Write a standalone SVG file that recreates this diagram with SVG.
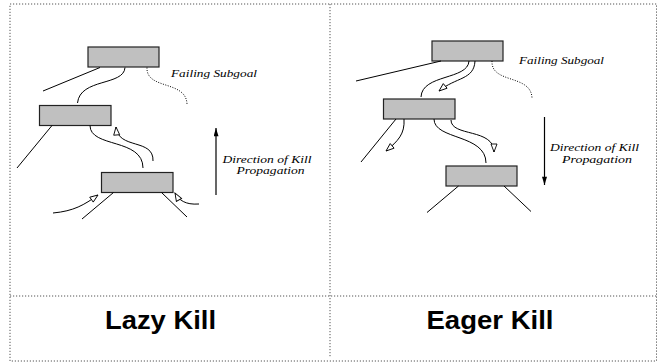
<svg xmlns="http://www.w3.org/2000/svg" width="667" height="363" viewBox="0 0 667 363">
  <style>
    .frame { fill: none; stroke: #555; stroke-width: 1; stroke-dasharray: 1.2 1.8; }
    .node rect { fill: #c0c0c0; stroke: #222; stroke-width: 1.2; }
    .edge { fill: none; stroke: #000; stroke-width: 1; }
    .kill { fill: none; stroke: #000; stroke-width: 1; marker-end: url(#open); }
    .fail { fill: none; stroke: #000; stroke-width: 1; stroke-dasharray: 1 1.5; }
    .dir { fill: none; stroke: #000; stroke-width: 1.2; marker-end: url(#tip); }
    .note { font-family: "Liberation Serif", "DejaVu Serif", "Times New Roman", serif; font-style: italic; font-size: 11px; fill: #000; }
    .title { font-family: "Liberation Sans", Arial, sans-serif; font-weight: bold; font-size: 26px; fill: #000; }
  </style>
  <defs>
    <marker id="open" viewBox="0 0 10 8" refX="9" refY="4" markerWidth="10" markerHeight="8" markerUnits="userSpaceOnUse" orient="auto">
      <path d="M1,1 L9,4 L1,7 Z" fill="#fff" stroke="#000" stroke-width="0.9"/>
    </marker>
    <marker id="tip" viewBox="0 0 10 6" refX="10" refY="3" markerWidth="9" markerHeight="5" markerUnits="userSpaceOnUse" orient="auto">
      <path d="M0,0 L10,3 L0,6 Z" fill="#000"/>
    </marker>
  </defs>

  <!-- panel frame -->
  <g id="frame">
    <rect class="frame" x="10" y="4" width="646.5" height="357"/>
    <line class="frame" x1="330" y1="4" x2="330" y2="357"/>
    <line class="frame" x1="10" y1="296" x2="656.5" y2="296"/>
  </g>

  <!-- lazy kill: tree nodes -->
  <g id="lazy-top" class="node"><rect x="88" y="47" width="71" height="20"/></g>
  <g id="lazy-mid" class="node"><rect x="39.5" y="105.5" width="71.5" height="20"/></g>
  <g id="lazy-low" class="node"><rect x="101.5" y="172.5" width="71.5" height="20"/></g>

  <!-- eager kill: tree nodes -->
  <g id="eager-top" class="node"><rect x="432" y="41" width="71" height="20"/></g>
  <g id="eager-mid" class="node"><rect x="383.5" y="99" width="71.5" height="20"/></g>
  <g id="eager-low" class="node"><rect x="446" y="166" width="71" height="20"/></g>

  <!-- connectors -->
  <g id="connectors">
    <!-- lazy kill -->
    <line class="edge" x1="100" y1="67.5" x2="43" y2="91"/>
    <path class="edge" d="M125,67.5 C124,86 80,78 77.5,103"/>
    <path class="fail" d="M147,67.5 C146,90 186,80 187,104"/>
    <line class="edge" x1="52" y1="125.5" x2="17" y2="168"/>
    <path class="edge" d="M90,125.5 C90,148 143,138 143,168"/>
    <path class="kill" d="M153,161 C154,138 118,150 116,127"/>
    <line class="edge" x1="113.5" y1="192.5" x2="82" y2="219"/>
    <line class="edge" x1="161.5" y1="192.5" x2="187" y2="217"/>
    <path class="kill" d="M53,213 C74,211 84,205 98,195"/>
    <path class="kill" d="M199,204 C185,205 179,200 175,193"/>
    <line class="dir" x1="216" y1="195" x2="216" y2="128"/>

    <!-- eager kill -->
    <line class="edge" x1="441" y1="61" x2="356" y2="81"/>
    <path class="edge" d="M469,61 C468,80 422,74 421,97"/>
    <path class="kill" d="M475,61 C474,80 456,77 439,91"/>
    <path class="fail" d="M492,61 C491,84 531,74 532,98"/>
    <line class="edge" x1="396" y1="119" x2="361" y2="162"/>
    <path class="kill" d="M404,119 C405,134 398,141 386,151"/>
    <path class="edge" d="M434,119 C434,140 486,134 486,163"/>
    <path class="kill" d="M451,120 C451,137 494,128 494,152"/>
    <line class="edge" x1="458.5" y1="186" x2="427" y2="212.5"/>
    <line class="edge" x1="504" y1="186" x2="531" y2="211.5"/>
    <line class="dir" x1="544.5" y1="117" x2="544.5" y2="185"/>
  </g>

  <!-- labels -->
  <g id="labels">
    <text class="note" x="171" y="76.5" textLength="86" lengthAdjust="spacingAndGlyphs">Failing Subgoal</text>
    <text class="note" x="222.5" y="162.5" textLength="89" lengthAdjust="spacingAndGlyphs">Direction of Kill</text>
    <text class="note" x="236.5" y="174" textLength="68" lengthAdjust="spacingAndGlyphs">Propagation</text>
    <text class="note" x="519" y="63.5" textLength="85" lengthAdjust="spacingAndGlyphs">Failing Subgoal</text>
    <text class="note" x="550" y="151" textLength="89" lengthAdjust="spacingAndGlyphs">Direction of Kill</text>
    <text class="note" x="562" y="162.5" textLength="70" lengthAdjust="spacingAndGlyphs">Propagation</text>
    <text class="title" x="105" y="328.5" textLength="111" lengthAdjust="spacingAndGlyphs">Lazy Kill</text>
    <text class="title" x="426.5" y="328.5" textLength="127" lengthAdjust="spacingAndGlyphs">Eager Kill</text>
  </g>
</svg>
